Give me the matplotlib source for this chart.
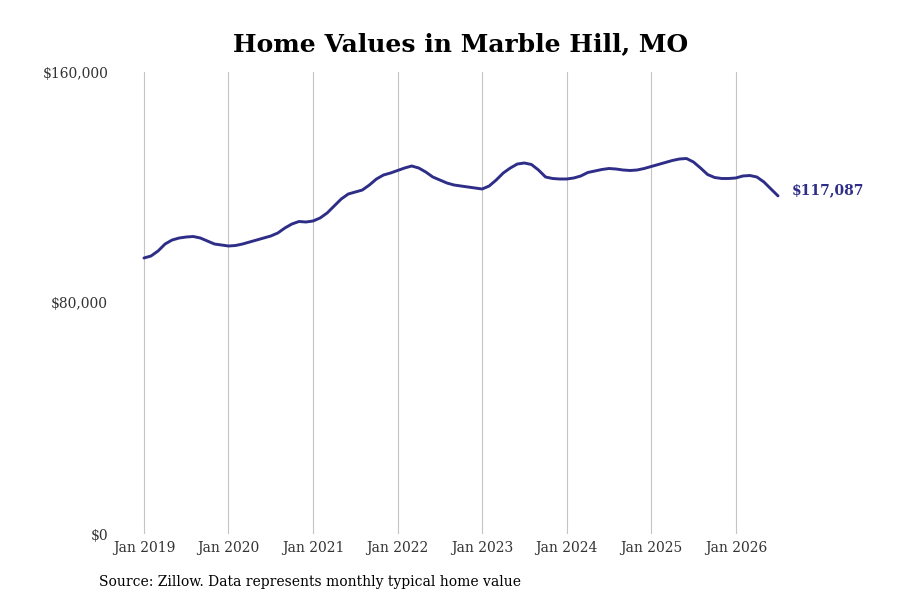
import matplotlib
matplotlib.use('Agg')
import matplotlib.pyplot as plt
from matplotlib.ticker import FuncFormatter

# Monthly typical home value, Jan 2019 - Jul 2026
values = [
    95584, 96277, 98009, 100433, 101818, 102511, 102857, 103030, 102511, 101472, 100433, 100086,
    99740, 99913, 100433, 101125, 101818, 102511, 103203, 104242, 105974, 107359, 108225, 108052,
    108398, 109437, 111169, 113593, 116017, 117749, 118441, 119134, 120866, 122944, 124329, 125022,
    125887, 126753, 127446, 126753, 125368, 123636, 122597, 121558, 120866, 120519, 120173, 119827,
    119480, 120519, 122597, 125022, 126753, 128138, 128485, 127965, 126060, 123636, 123117, 122944,
    122944, 123290, 123983, 125195, 125714, 126234, 126580, 126407, 126060, 125887, 126060, 126580,
    127273, 127965, 128658, 129350, 129870, 130043, 128831, 126753, 124502, 123463, 123117, 123117,
    123290, 123983, 124156, 123636, 121905, 119480, 117087,
]
months = list(range(len(values)))
tick_pos = [0, 12, 24, 36, 48, 60, 72, 84]
tick_labels = ['Jan 2019', 'Jan 2020', 'Jan 2021', 'Jan 2022',
               'Jan 2023', 'Jan 2024', 'Jan 2025', 'Jan 2026']
y_ticks = [0, 80000, 160000]

line_color = '#2e2d88'
plt.rcParams['font.family'] = 'DejaVu Serif'

fig = plt.figure(figsize=(9, 6), dpi=100)
ax = fig.add_axes([120 / 900, 0.11, 670 / 900, 0.77])

ax.plot(months, values, color=line_color, linewidth=2.1, solid_capstyle='round')

# end label
ax.annotate('${:,.0f}'.format(values[-1]), xy=(months[-1], values[-1]),
            xytext=(10, 4), textcoords='offset points', va='center', ha='left',
            fontsize=10, fontweight='bold', color=line_color, annotation_clip=False)

ax.set_xlim(-3.4, 91.7)
ax.set_ylim(0, 160000)
ax.set_xticks(tick_pos)
ax.set_xticklabels(tick_labels)
ax.set_yticks(y_ticks)
ax.yaxis.set_major_formatter(FuncFormatter(lambda v, p: '${:,.0f}'.format(v)))
ax.tick_params(axis='both', length=0, labelsize=10, colors='#333333')
ax.tick_params(axis='x', pad=5)
ax.tick_params(axis='y', pad=8.5)

ax.grid(axis='x', color='#c4c4c4', linewidth=0.8)
ax.grid(axis='y', visible=False)
for s in ax.spines.values():
    s.set_visible(False)

fig.text(0.512, 0.927, 'Home Values in Marble Hill, MO', ha='center', va='center',
         fontsize=18, fontweight='bold')
fig.text(99 / 900, 0.03, 'Source: Zillow. Data represents monthly typical home value',
         ha='left', va='center', fontsize=10)

plt.savefig('out.png', dpi=100)
